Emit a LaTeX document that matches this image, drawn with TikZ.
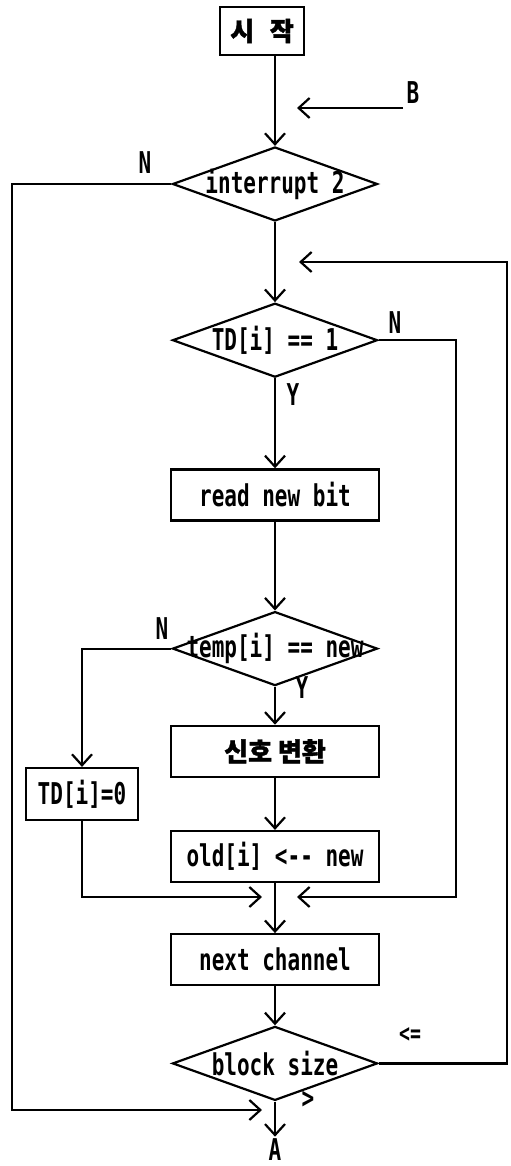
\documentclass[tikz,border=0pt]{standalone}
\usepackage{fontspec}
\usepackage{tikz}
\usetikzlibrary{arrows.meta, positioning, shapes.geometric}

\newfontfamily\codefont[FakeStretch=0.7]{DejaVu Sans Mono}
\newfontfamily\kor[FakeBold=1.5]{Noto Sans CJK KR}

\begin{document}
\begin{tikzpicture}[
      x=0.5pt, y=-0.5pt,
      every node/.style={font=\codefont\bfseries\fontsize{15}{17}\selectfont},
      box/.style={draw, line width=1.1pt, minimum width=104pt, minimum height=25.5pt, inner sep=0pt},
      decision/.style={draw, diamond, line width=1.1pt, minimum width=102.5pt, minimum height=37pt, inner sep=0pt},
      arrow/.style={-{Straight Barb[length=5.5pt, width=10pt]}, line width=1.1pt}
    ]
        \useasboundingbox (0,0) rectangle (510,1166);

        \node[box, minimum width=42pt, minimum height=24pt] (start) at (262,31) {\kor\fontsize{13}{15}\selectfont 시\hspace{0.6em}작};
        \node[decision] (int) at (275,184) {\makebox[0pt]{interrupt 2}};
        \node[decision, below=40pt of int] (td) {\makebox[0pt]{TD[i] == 1}};
        \node[box, below=45pt of td] (read) {read new bit};
        \node[decision, below=44.5pt of read] (tmp) {\makebox[0pt]{\raisebox{-3pt}{temp[i] == new}}};
        \node[box, below=19pt of tmp] (sig) {\kor\fontsize{13}{15}\selectfont 신호 변환};
        \node[box, below=26pt of sig] (old) {old[i] <-- new};
        \node[box, below=25pt of old] (next) {next channel};
        \node[decision, below=19.5pt of next] (blk) {\makebox[0pt]{block size}};
        \node[box, minimum width=56pt, minimum height=26pt] (tdz) at (82,794) {TD[i]=0};

        % branch labels
        \node (nint) at (145,163) {N};
        \node (ntd) at (395,323) {N};
        \node (ytd) at (293,395) {Y};
        \node (ntmp) at (162,629) {N};
        \node (ytmp) at (302,688) {Y};
        \node[font=\codefont\bfseries\fontsize{13}{15}\selectfont] (le) at (410,1035) {<=};
        \node (gt) at (308,1100) {>};
        \node[inner sep=1pt] (a) at (275,1150) {A};
        \node (b) at (413,93) {B};

        \coordinate (bfrom) at (403,108);
        \coordinate (bto) at (297,108);
        \coordinate (loop) at (299,262);
        \coordinate (joinl) at (262,897);
        \coordinate (joinr) at (297,897);
        \coordinate (exitl) at (262,1110);
        \coordinate (intrail) at (12,1110);
        \coordinate (tdrail) at (456,897);
        \coordinate (blkrail) at (507,262);

        \draw[arrow] (start.south -| int.north) -- (int.north);
        \draw[arrow] (bfrom) -- (bto);
        \draw[arrow] (int.south) -- (td.north);
        \draw[arrow] (td.south) -- (read.north);
        \draw[arrow] (read.south) -- (tmp.north);
        \draw[arrow] (tmp.south) -- (sig.north);
        \draw[arrow] (sig.south) -- (old.north);
        \draw[arrow] (old.south) -- (next.north);
        \draw[arrow] (next.south) -- (blk.north);
        \draw[arrow] (blk.south) -- (a.north);

        \draw[arrow] (tmp.west) -| (tdz.north);
        \draw[arrow] (tdz.south) |- (joinl);
        \draw[arrow] (td.east) -| (tdrail) -- (joinr);
        \draw[arrow] (blk.east) -| (blkrail) -- (loop);
        \draw[arrow] (int.west) -| (intrail) -- (exitl);
    \end{tikzpicture}
\end{document}
